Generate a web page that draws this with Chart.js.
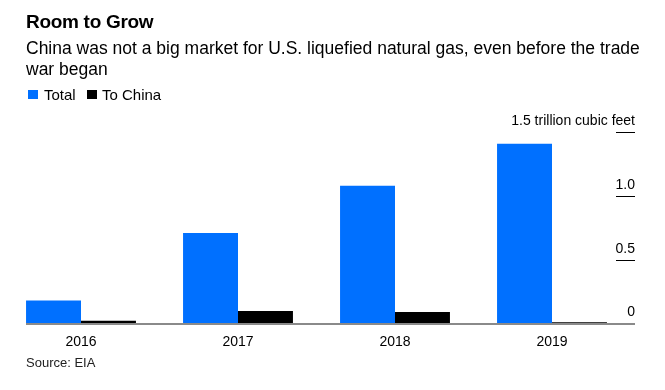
<!DOCTYPE html>
<html>
<head>
<meta charset="utf-8">
<script src="https://cdn.jsdelivr.net/npm/chart.js@4/dist/chart.umd.min.js"></script>
<style>
  html, body { margin: 0; padding: 0; background: #fff; }
  body { width: 665px; height: 390px; position: relative; overflow: hidden; font-family: "Liberation Sans", Arial, sans-serif; color: #000; }
  #wrap { position: absolute; left: 0; top: 0; width: 665px; height: 390px; }
  .t { position: absolute; white-space: nowrap; }
  #title { left: 26px; top: 11px; font-size: 19px; font-weight: bold; letter-spacing: -0.3px; }
  #sub { left: 26px; top: 38px; font-size: 17.5px; line-height: 21px; white-space: normal; width: 625px; }
  #legend { left: 28px; top: 86px; font-size: 15px; line-height: 17px; height: 17px; }
  .sw { position: absolute; top: 3.5px; width: 9.5px; height: 9.5px; }
  .lt { position: absolute; top: 0; white-space: nowrap; }
  #source { left: 26px; top: 355px; font-size: 13px; line-height: 15px; color: #222; }
</style>
</head>
<body>
<div id="wrap"><canvas id="c" width="665" height="390"></canvas></div>
<div class="t" id="title">Room to Grow</div>
<div class="t" id="sub">China was not a big market for U.S. liquefied natural gas, even before the trade war began</div>
<div class="t" id="legend">
  <span class="sw" style="left:0;background:#0070FF"></span><span class="lt" style="left:16px">Total</span>
  <span class="sw" style="left:59px;background:#000"></span><span class="lt" style="left:74px">To China</span>
</div>
<div class="t" id="source">Source: EIA</div>
<script>
const years = ["2016", "2017", "2018", "2019"];
const totalValues = [0.18, 0.71, 1.08, 1.41];
const chinaValues = [0.02, 0.098, 0.09, 0.01];
const yTickValues = [0, 0.5, 1.0, 1.5];
const yTickLabels = ["0", "0.5", "1.0", "1.5 trillion cubic feet"];

const rightAxisPlugin = {
  id: 'rightAxis',
  afterDatasetsDraw(chart) {
    const ctx = chart.ctx;
    const y = chart.scales.y;
    const right = 635;
    ctx.save();
    const y0 = Math.round(y.getPixelForValue(0)) + 1;
    ctx.strokeStyle = '#8a8a8a';
    ctx.lineWidth = 2;
    ctx.beginPath();
    ctx.moveTo(26, y0);
    ctx.lineTo(right, y0);
    ctx.stroke();
    ctx.font = '14px "Liberation Sans", Arial, sans-serif';
    ctx.fillStyle = '#000';
    ctx.textAlign = 'right';
    ctx.textBaseline = 'alphabetic';
    yTickValues.forEach((v, i) => {
      const py = Math.round(y.getPixelForValue(v)) + 0.5;
      if (v !== 0) {
        ctx.strokeStyle = '#000';
        ctx.lineWidth = 1;
        ctx.beginPath();
        ctx.moveTo(616, py);
        ctx.lineTo(right, py);
        ctx.stroke();
      }
      ctx.fillText(yTickLabels[i], right, py - 8);
    });
    ctx.restore();
  }
};

new Chart(document.getElementById('c'), {
  type: 'bar',
  data: {
    labels: years,
    datasets: [
      { label: 'Total', data: totalValues, backgroundColor: '#0070FF', borderWidth: 0 },
      { label: 'To China', data: chinaValues, backgroundColor: '#000000', borderWidth: 0 }
    ]
  },
  options: {
    responsive: false,
    animation: false,
    devicePixelRatio: 1,
    layout: { padding: { left: 2.5, right: 34.5, top: 132.3, bottom: 26.6 } },
    datasets: { bar: { categoryPercentage: 0.7, barPercentage: 1.0 } },
    plugins: { legend: { display: false }, tooltip: { enabled: false }, title: { display: false } },
    scales: {
      x: {
        grid: { display: false, drawTicks: false },
        border: { display: false },
        ticks: { color: '#000', padding: 10, font: { size: 14, family: '"Liberation Sans", Arial, sans-serif' } },
        afterFit(s) { s.height = 40; }
      },
      y: {
        display: false,
        min: 0,
        max: 1.5
      }
    }
  },
  plugins: [rightAxisPlugin]
});
</script>
</body>
</html>
